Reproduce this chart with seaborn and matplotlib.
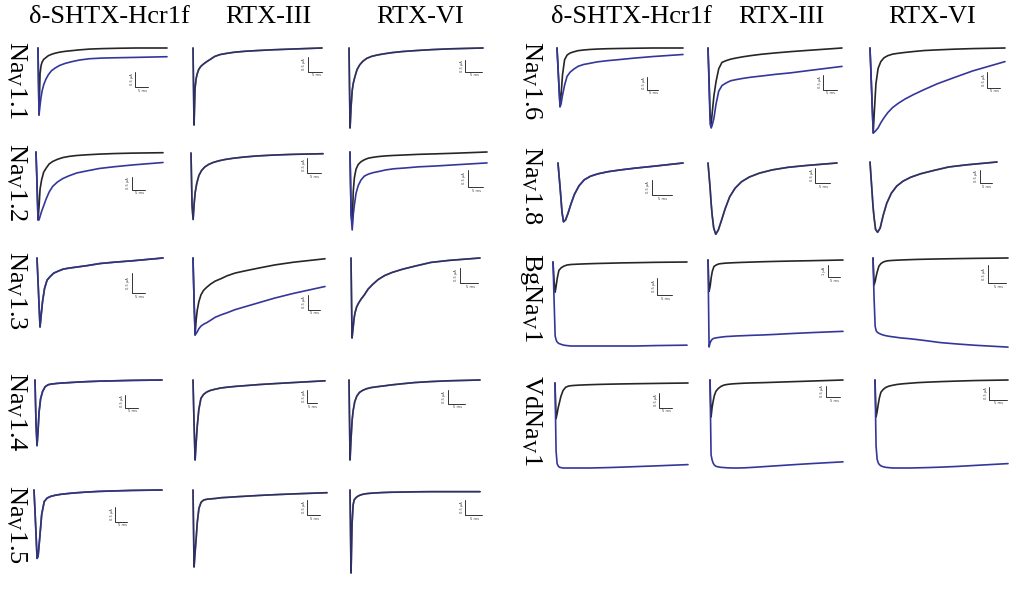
import matplotlib
matplotlib.use("Agg")
import matplotlib.pyplot as plt
import numpy as np
import pandas as pd
import seaborn as sns

sns.set_theme(style="white")
plt.rcParams['font.family'] = ['Liberation Serif', 'DejaVu Serif']
plt.rcParams['mathtext.fontset'] = 'custom'
plt.rcParams['mathtext.rm'] = 'Liberation Serif'
plt.rcParams['mathtext.it'] = 'Liberation Serif:italic'
plt.rcParams['text.color'] = 'black'

# ---------------- data (time in ms, current normalised to panel peak) -------------
time_ms = [0, 0.4, 0.8, 1.2, 1.6, 2.2, 3.0, 4.0, 5.2, 6.6, 8.4, 10.5, 13, 16, 20, 25, 31, 38, 50]

toxins = ["δ-SHTX-Hcr1f", "RTX-III", "RTX-VI"]
channels_left = ["Na$_{\\mathrm{V}}$1.1", "Na$_{\\mathrm{V}}$1.2", "Na$_{\\mathrm{V}}$1.3",
                 "Na$_{\\mathrm{V}}$1.4", "Na$_{\\mathrm{V}}$1.5"]
channels_right = ["Na$_{\\mathrm{V}}$1.6", "Na$_{\\mathrm{V}}$1.8",
                  "BgNa$_{\\mathrm{V}}$1", "VdNa$_{\\mathrm{V}}$1"]

# Nav1.1
nav11_hcr_ctrl = [0, -1.0, -0.38, -0.26, -0.21, -0.17, -0.145, -0.115, -0.095, -0.078, -0.062, -0.05, -0.04, -0.028, -0.016, -0.009, -0.004, 0.0, 0.0]
nav11_hcr_tox = [0, -1.0, -0.85, -0.73, -0.64, -0.55, -0.47, -0.40, -0.34, -0.30, -0.26, -0.23, -0.205, -0.18, -0.16, -0.15, -0.145, -0.14, -0.13]
nav11_rtx3 = [0, -1.0, -0.52, -0.40, -0.34, -0.28, -0.24, -0.21, -0.18, -0.15, -0.11, -0.085, -0.07, -0.055, -0.043, -0.033, -0.023, -0.014, 0.0]
nav11_rtx6 = [0, -1.0, -0.72, -0.53, -0.44, -0.36, -0.27, -0.21, -0.165, -0.13, -0.105, -0.088, -0.073, -0.058, -0.044, -0.032, -0.02, -0.01, 0.0]
# Nav1.2
nav12_hcr_ctrl = [0, -0.45, -0.97, -0.78, -0.53, -0.40, -0.29, -0.23, -0.17, -0.135, -0.105, -0.08, -0.063, -0.05, -0.04, -0.03, -0.022, -0.016, -0.01]
nav12_hcr_tox = [0, -0.45, -0.97, -0.97, -0.92, -0.85, -0.77, -0.67, -0.57, -0.49, -0.43, -0.38, -0.34, -0.30, -0.27, -0.235, -0.21, -0.185, -0.15]
nav12_rtx3 = [0, -0.75, -0.95, -0.72, -0.56, -0.43, -0.32, -0.25, -0.20, -0.165, -0.135, -0.112, -0.092, -0.075, -0.058, -0.042, -0.03, -0.02, -0.01]
nav12_rtx6_ctrl = [0, -0.8, -0.92, -0.50, -0.33, -0.22, -0.16, -0.125, -0.10, -0.08, -0.068, -0.058, -0.05, -0.044, -0.038, -0.03, -0.024, -0.016, 0.0]
nav12_rtx6_tox = [0, -0.8, -1.0, -0.80, -0.68, -0.53, -0.43, -0.36, -0.31, -0.285, -0.265, -0.25, -0.23, -0.215, -0.205, -0.19, -0.18, -0.165, -0.14]
# Nav1.3
nav13_hcr = [0, -0.33, -0.67, -1.0, -0.85, -0.63, -0.44, -0.32, -0.27, -0.22, -0.19, -0.16, -0.145, -0.13, -0.11, -0.08, -0.06, -0.04, 0.0]
nav13_rtx3_ctrl = [0, -0.55, -1.0, -0.80, -0.68, -0.57, -0.48, -0.42, -0.38, -0.34, -0.30, -0.27, -0.23, -0.195, -0.165, -0.13, -0.09, -0.055, -0.01]
nav13_rtx3_tox = [0, -0.55, -1.0, -0.98, -0.96, -0.92, -0.885, -0.86, -0.84, -0.81, -0.77, -0.74, -0.71, -0.67, -0.63, -0.58, -0.52, -0.46, -0.37]
nav13_rtx6 = [0, -1.0, -0.88, -0.75, -0.68, -0.61, -0.56, -0.51, -0.46, -0.39, -0.33, -0.27, -0.22, -0.18, -0.14, -0.10, -0.055, -0.03, 0.0]
# Nav1.4
nav14_hcr = [0, -0.65, -0.98, -0.76, -0.48, -0.28, -0.17, -0.10, -0.07, -0.06, -0.052, -0.045, -0.04, -0.033, -0.025, -0.018, -0.012, -0.006, 0.0]
nav14_rtx3 = [0, -0.55, -1.0, -0.78, -0.58, -0.37, -0.23, -0.18, -0.15, -0.13, -0.115, -0.10, -0.09, -0.08, -0.07, -0.057, -0.045, -0.032, -0.01]
nav14_rtx6 = [0, -1.0, -0.72, -0.50, -0.38, -0.27, -0.20, -0.155, -0.13, -0.11, -0.095, -0.085, -0.075, -0.062, -0.048, -0.032, -0.02, -0.01, 0.0]
# Nav1.5
nav15_hcr = [0, -0.3, -0.62, -0.95, -0.92, -0.68, -0.34, -0.16, -0.11, -0.088, -0.072, -0.06, -0.05, -0.04, -0.03, -0.02, -0.013, -0.006, 0.0]
nav15_rtx3 = [0, -1.0, -0.80, -0.62, -0.42, -0.24, -0.16, -0.13, -0.12, -0.115, -0.11, -0.10, -0.095, -0.088, -0.08, -0.07, -0.06, -0.05, -0.035]
nav15_rtx6 = [0, -1.0, -0.40, -0.18, -0.12, -0.095, -0.075, -0.06, -0.05, -0.043, -0.038, -0.034, -0.03, -0.027, -0.025, -0.022, -0.02, -0.02, -0.02]
# Nav1.6
nav16_hcr_ctrl = [0, -0.33, -0.67, -0.97, -0.80, -0.45, -0.20, -0.12, -0.085, -0.065, -0.045, -0.034, -0.025, -0.018, -0.012, -0.008, -0.004, 0.0, 0.0]
nav16_hcr_tox = [0, -0.33, -0.67, -1.0, -0.95, -0.80, -0.63, -0.48, -0.41, -0.36, -0.31, -0.28, -0.26, -0.235, -0.215, -0.195, -0.17, -0.145, -0.11]
nav16_rtx3_ctrl = [0, -0.4, -0.85, -0.95, -0.80, -0.60, -0.42, -0.26, -0.18, -0.16, -0.14, -0.125, -0.11, -0.095, -0.078, -0.062, -0.045, -0.028, 0.0]
nav16_rtx3_tox = [0, -0.45, -0.95, -1.0, -0.96, -0.88, -0.70, -0.54, -0.47, -0.44, -0.41, -0.395, -0.38, -0.365, -0.35, -0.33, -0.31, -0.28, -0.23]
nav16_rtx6_ctrl = [0, -0.33, -0.67, -1.0, -0.75, -0.42, -0.24, -0.16, -0.115, -0.09, -0.072, -0.062, -0.052, -0.042, -0.03, -0.022, -0.014, -0.007, 0.0]
nav16_rtx6_tox = [0, -0.33, -0.67, -1.0, -0.99, -0.97, -0.94, -0.88, -0.82, -0.76, -0.70, -0.65, -0.60, -0.55, -0.49, -0.42, -0.35, -0.27, -0.16]
# Nav1.8
nav18_hcr = [0, -0.2, -0.39, -0.6, -0.82, -0.98, -0.95, -0.84, -0.68, -0.52, -0.38, -0.28, -0.22, -0.18, -0.145, -0.115, -0.085, -0.055, 0.0]
nav18_rtx3 = [0, -0.17, -0.34, -0.55, -0.72, -0.90, -0.99, -0.93, -0.80, -0.64, -0.47, -0.35, -0.26, -0.195, -0.14, -0.095, -0.06, -0.035, 0.0]
nav18_rtx6 = [0, -0.21, -0.42, -0.63, -0.78, -0.95, -0.99, -0.93, -0.75, -0.58, -0.44, -0.34, -0.27, -0.215, -0.165, -0.12, -0.07, -0.04, 0.0]
# BgNav1
bgnav_hcr_ctrl = [0, -0.22, -0.36, -0.28, -0.19, -0.10, -0.07, -0.05, -0.036, -0.03, -0.027, -0.024, -0.021, -0.018, -0.015, -0.011, -0.008, -0.004, 0.0]
bgnav_hcr_tox = [0, -0.45, -0.88, -0.93, -0.955, -0.97, -0.98, -0.99, -0.995, -1.0, -1.0, -1.0, -1.0, -1.0, -1.0, -1.0, -1.0, -0.995, -0.99]
bgnav_rtx3_ctrl = [0, -0.36, -0.30, -0.20, -0.13, -0.075, -0.058, -0.045, -0.04, -0.036, -0.033, -0.03, -0.027, -0.024, -0.02, -0.016, -0.012, -0.008, 0.0]
bgnav_rtx3_tox = [0, -1.0, -0.95, -0.925, -0.91, -0.90, -0.895, -0.89, -0.885, -0.88, -0.877, -0.873, -0.87, -0.866, -0.862, -0.855, -0.845, -0.835, -0.82]
bgnav_rtx6_ctrl = [0, -0.30, -0.26, -0.20, -0.15, -0.09, -0.06, -0.042, -0.032, -0.028, -0.025, -0.022, -0.019, -0.016, -0.013, -0.01, -0.007, -0.004, 0.0]
bgnav_rtx6_tox = [0, -0.45, -0.76, -0.81, -0.825, -0.837, -0.848, -0.858, -0.866, -0.873, -0.88, -0.889, -0.895, -0.905, -0.92, -0.94, -0.955, -0.97, -0.99]
# VdNav1
vdnav_hcr_ctrl = [0, -0.42, -0.36, -0.29, -0.24, -0.16, -0.09, -0.05, -0.035, -0.03, -0.026, -0.023, -0.02, -0.017, -0.014, -0.011, -0.008, -0.005, 0.0]
vdnav_hcr_tox = [0, -0.80, -0.95, -0.975, -0.99, -0.995, -1.0, -1.0, -1.0, -1.0, -1.0, -1.0, -1.0, -0.998, -0.995, -0.99, -0.983, -0.975, -0.96]
vdnav_rtx3_ctrl = [0, -0.42, -0.31, -0.24, -0.18, -0.13, -0.10, -0.075, -0.058, -0.05, -0.044, -0.04, -0.036, -0.033, -0.03, -0.025, -0.019, -0.012, 0.0]
vdnav_rtx3_tox = [0, -0.85, -0.91, -0.945, -0.965, -0.98, -0.987, -0.992, -0.995, -0.998, -1.0, -1.0, -0.998, -0.993, -0.985, -0.975, -0.963, -0.95, -0.93]
vdnav_rtx6_ctrl = [0, -0.42, -0.36, -0.28, -0.21, -0.14, -0.11, -0.085, -0.07, -0.06, -0.05, -0.043, -0.037, -0.03, -0.024, -0.018, -0.012, -0.006, 0.0]
vdnav_rtx6_tox = [0, -0.75, -0.90, -0.94, -0.96, -0.975, -0.985, -0.992, -0.996, -1.0, -1.0, -1.0, -1.0, -0.998, -0.995, -0.99, -0.982, -0.97, -0.95]

# scale bar labels
vbar_label = "0.5 µA"
vbar_label_big = "1 µA"
hbar_label = "5 ms"

# ---------------- layout (pixel boxes: x0, ytop, width, height) --------------------
FW, FH = 1016, 591
panels = [
    # left block
    ((38, 48, 129, 67), nav11_hcr_ctrl, nav11_hcr_tox, (135, 72, 87, 148), vbar_label),
    ((193, 48, 129, 77), nav11_rtx3, nav11_rtx3, (308, 57, 72, 322), vbar_label),
    ((349, 48, 134, 80), nav11_rtx6, nav11_rtx6, (465, 60, 72, 482), vbar_label),
    ((36, 152, 127, 70), nav12_hcr_ctrl, nav12_hcr_tox, (132, 177, 190, 145), vbar_label),
    ((191, 153, 132, 70), nav12_rtx3, nav12_rtx3, (307, 158, 173, 321), vbar_label),
    ((350, 152, 137, 78), nav12_rtx6_ctrl, nav12_rtx6_tox, (468, 170, 187, 483), vbar_label),
    ((37, 258, 126, 69), nav13_hcr, nav13_hcr, (132, 273, 293, 145), vbar_label),
    ((193, 258, 132, 77), nav13_rtx3_ctrl, nav13_rtx3_tox, (308, 295, 310, 320), vbar_label),
    ((351, 258, 129, 80), nav13_rtx6, nav13_rtx6, (460, 268, 283, 478), vbar_label),
    ((35, 380, 127, 67), nav14_hcr, nav14_hcr, (125, 395, 408, 138), vbar_label),
    ((193, 380, 132, 80), nav14_rtx3, nav14_rtx3, (307, 390, 403, 317), vbar_label),
    ((349, 380, 131, 80), nav14_rtx6, nav14_rtx6, (448, 390, 404, 465), vbar_label),
    ((34, 490, 128, 72), nav15_hcr, nav15_hcr, (115, 507, 522, 127), vbar_label),
    ((193, 490, 134, 77), nav15_rtx3, nav15_rtx3, (307, 500, 515, 320), vbar_label),
    ((350, 490, 130, 83), nav15_rtx6, nav15_rtx6, (465, 500, 515, 482), vbar_label),
    # right block
    ((557, 48, 126, 59), nav16_hcr_ctrl, nav16_hcr_tox, (647, 77, 90, 658), vbar_label),
    ((708, 48, 134, 80), nav16_rtx3_ctrl, nav16_rtx3_tox, (823, 75, 90, 837), vbar_label),
    ((870, 48, 135, 85), nav16_rtx6_ctrl, nav16_rtx6_tox, (987, 72, 88, 1000), vbar_label),
    ((558, 163, 125, 60), nav18_hcr, nav18_hcr, (652, 180, 195, 672), vbar_label),
    ((708, 163, 129, 72), nav18_rtx3, nav18_rtx3, (815, 168, 183, 830), vbar_label),
    ((870, 162, 127, 71), nav18_rtx6, nav18_rtx6, (980, 170, 183, 992), vbar_label),
    ((553, 262, 134, 84), bgnav_hcr_ctrl, bgnav_hcr_tox, (657, 278, 295, 672), vbar_label),
    ((708, 260, 135, 87), bgnav_rtx3_ctrl, bgnav_rtx3_tox, (828, 265, 277, 840), vbar_label_big),
    ((873, 258, 135, 90), bgnav_rtx6_ctrl, bgnav_rtx6_tox, (988, 265, 283, 1006), vbar_label),
    ((555, 383, 133, 85), vdnav_hcr_ctrl, vdnav_hcr_tox, (659, 393, 408, 672), vbar_label),
    ((710, 380, 133, 88), vdnav_rtx3_ctrl, vdnav_rtx3_tox, (826, 386, 397, 840), vbar_label),
    ((875, 380, 133, 88), vdnav_rtx6_ctrl, vdnav_rtx6_tox, (989, 387, 400, 1007), vbar_label),
]

CTRL_COLOR = "#262626"
TOX_COLOR = "#34379a"

fig = plt.figure(figsize=(FW / 100, FH / 100), dpi=100)
fig.patch.set_facecolor("white")

for idx, ((x0, ytop, w, h), ctrl, tox, _bar, _lab) in enumerate(panels):
    n = len(time_ms)
    ctrl = list(ctrl)[:n]
    tox = list(tox)[:n]
    ax = fig.add_axes([x0 / FW, 1 - (ytop + h) / FH, w / FW, h / FH])
    df = pd.DataFrame({
        "t": time_ms[:len(ctrl)] + time_ms[:len(tox)],
        "I": ctrl + tox,
        "cond": ["control"] * len(ctrl) + ["toxin"] * len(tox),
    })
    sns.lineplot(data=df, x="t", y="I", hue="cond",
                 palette={"control": CTRL_COLOR, "toxin": TOX_COLOR},
                 legend=False, ax=ax, linewidth=1.2, estimator=None, sort=False)
    for ln in ax.lines:
        ln.set_clip_on(False)
        ln.set_solid_joinstyle("round")
        ln.set_solid_capstyle("round")
    if ctrl == tox:
        # overlapping traces: Hcr1f column looks bluer, RTX columns darker navy
        ax.lines[-1].set_alpha(0.8 if idx % 3 == 0 else 0.55)
    ax.set_xlim(0, 50)
    ax.set_ylim(-1, 0)
    ax.set_axis_off()

# overlay in pixel coordinates for text and scale bars
ov = fig.add_axes([0, 0, 1, 1])
ov.set_xlim(0, FW)
ov.set_ylim(FH, 0)
ov.set_axis_off()
ov.patch.set_alpha(0)

for _box, _c, _t, (vx, vy0, vy1, hx1), lab in panels:
    ov.plot([vx, vx, hx1], [vy0, vy1, vy1], color="#333333", lw=0.7)
    ov.text(vx - 1.5, (vy0 + vy1) / 2, lab, rotation=90, ha="right", va="center",
            fontsize=2.6, color="#444444", family="DejaVu Sans")
    ov.text((vx + hx1) / 2 + 1, vy1 + 1.5, hbar_label, ha="center", va="top",
            fontsize=2.6, color="#444444", family="DejaVu Sans")

# column headers
for name, cx in zip(toxins, [109, 268, 420]):
    ov.text(cx, 23, name, ha="center", va="baseline", fontsize=19, color="black")
for name, cx in zip(toxins, [631, 781, 932]):
    ov.text(cx, 23, name, ha="center", va="baseline", fontsize=19, color="black")

# row labels
for name, cy in zip(channels_left, [80, 182, 290, 412, 524]):
    ov.text(16, cy, name, rotation=-90, ha="center", va="center", fontsize=19, color="black")
for name, cy in zip(channels_right, [81, 185, 298, 420]):
    ov.text(531, cy, name, rotation=-90, ha="center", va="center", fontsize=19, color="black")

fig.savefig("out.png", dpi=100, facecolor="white")
